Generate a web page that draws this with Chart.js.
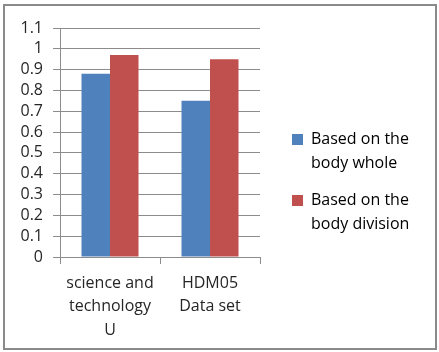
<!DOCTYPE html>
<html>
<head>
<meta charset="utf-8">
<script src="https://cdn.jsdelivr.net/npm/chart.js@4/dist/chart.umd.min.js"></script>
<style>
  html, body { margin: 0; padding: 0; background: #fff; }
  #wrap { position: relative; width: 439px; height: 352px; }
  #frame { position: absolute; left: 3px; top: 4px; width: 430px; height: 342px; border: 2px solid #8a8a8a; }
  canvas { position: absolute; left: 0; top: 0; }
</style>
</head>
<body>
<div id="wrap">
  <div id="frame"></div>
  <canvas id="chart" width="439" height="352"></canvas>
</div>
<script>
const categories = [['science and', 'technology', 'U'], ['HDM05', 'Data set']];
const seriesNames = [['Based on the', 'body whole'], ['Based on the', 'body division']];
const wholeValues = [0.88, 0.75];
const divisionValues = [0.97, 0.95];
const seriesColors = ['#4f81bd', '#c0504d'];
const yMax = 1.1;
const yStep = 0.1;

const gridColor = '#8c8c8c';
const textColor = '#262626';
const font = { family: 'Open Sans', size: 16 };

// legend sits at a fixed width right of the plot, shifted a bit from its left edge
const legendWidth = 176;
const legendShift = 19;
const legendFix = {
  id: 'legendFix',
  beforeUpdate(chart) {
    const legend = chart.legend;
    if (legend && !legend._patched) {
      const fit = legend.fit;
      legend.fit = function () {
        fit.call(this);
        this.width = legendWidth;
      };
      legend._patched = true;
    }
  },
  afterLayout(chart) {
    if (chart.legend) {
      chart.legend.left += legendShift;
      chart.legend.right += legendShift;
      chart.legend.top -= 4;
      chart.legend.bottom -= 4;
    }
  },
};

document.addEventListener('DOMContentLoaded', () => {
  const ctx = document.getElementById('chart');

  new Chart(ctx, {
    type: 'bar',
    data: {
      labels: categories,
      datasets: [
        {
          label: seriesNames[0].join(' '),
          data: wholeValues,
          backgroundColor: seriesColors[0],
        },
        {
          label: seriesNames[1].join(' '),
          data: divisionValues,
          backgroundColor: seriesColors[1],
        },
      ],
    },
    plugins: [legendFix],
    options: {
      responsive: false,
      animation: false,
      layout: { padding: { top: 28, right: 3, bottom: 0, left: 0 } },
      datasets: { bar: { categoryPercentage: 0.57, barPercentage: 1 } },
      plugins: {
        tooltip: { enabled: false },
        legend: {
          position: 'right',
          labels: {
            color: textColor,
            font: { ...font, lineHeight: 1.5 },
            boxWidth: 11,
            boxHeight: 11,
            padding: 13,
            generateLabels: (chart) => chart.data.datasets.map((ds, i) => ({
              text: seriesNames[i],
              fillStyle: ds.backgroundColor,
              strokeStyle: ds.backgroundColor,
              lineWidth: 0,
              datasetIndex: i,
              hidden: false,
            })),
          },
        },
      },
      scales: {
        x: {
          grid: { offset: true, drawOnChartArea: false, color: gridColor, tickLength: 7 },
          border: { color: gridColor },
          ticks: { color: textColor, font: { ...font, lineHeight: 1.45 }, padding: 8, maxRotation: 0 },
          afterFit: (scale) => { scale.height = 95; },
        },
        y: {
          min: 0,
          max: yMax,
          grid: { color: gridColor, tickLength: 7 },
          border: { color: gridColor },
          ticks: {
            stepSize: yStep,
            autoSkip: false,
            color: textColor,
            font,
            padding: 10,
            callback: (v) => String(+v.toFixed(1)),
          },
          afterFit: (scale) => { scale.width = 60; },
        },
      },
    },
  });
});
</script>
</body>
</html>
